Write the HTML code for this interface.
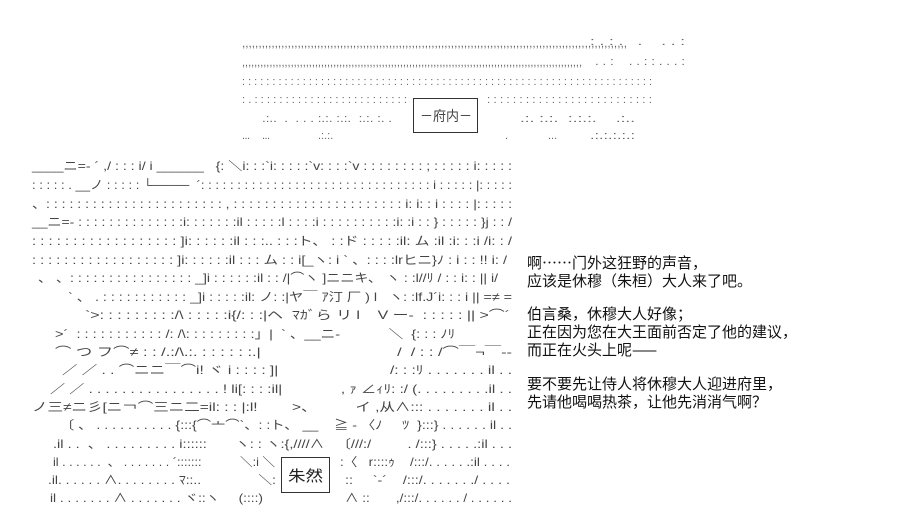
<!DOCTYPE html>
<html><head><meta charset="utf-8"><style>
html,body{margin:0;padding:0;background:#fff;width:906px;height:532px;overflow:hidden}
svg{display:block}
.a{font-family:"Liberation Sans","Noto Sans CJK JP",sans-serif;font-size:12px;fill:#444}
.t{font-family:"Noto Sans CJK SC","Liberation Sans",sans-serif;font-size:15px;fill:#111}
.d{font-family:"Liberation Sans",sans-serif;font-size:11px;fill:#666}
</style></head><body>
<svg width="906" height="532" xmlns="http://www.w3.org/2000/svg">
<text class="d" x="242" y="47" textLength="385" lengthAdjust="spacingAndGlyphs">,,,,,,,,,,,,,,,,,,,,,,,,,,,,,,,,,,,,,,,,,,,,,,,,,,,,,,,,,,,,,,,,,,,,,,,,,,,,,,,,,,,,,,,,,,,,,,,,,,,,,,,,,,,,,,,,,,,,,,</text>
<text class="d" x="590" y="45" textLength="95" lengthAdjust="spacingAndGlyphs">: . : . &#160; . &#160; &#160;. . :</text>
<text class="d" x="242" y="66" textLength="340" lengthAdjust="spacingAndGlyphs">,,,,,,,,,,,,,,,,,,,,,,,,,,,,,,,,,,,,,,,,,,,,,,,,,,,,,,,,,,,,,,,,,,,,,,,,,,,,,,,,,,,,,,,,,,,,,,,,,,,,,,,,,,,,,,,,</text>
<text class="d" x="595" y="65" textLength="90" lengthAdjust="spacingAndGlyphs">. . : &#160; &#160;. . : : . . . :</text>
<text class="d" x="242" y="85" textLength="410" lengthAdjust="spacingAndGlyphs">: : : : : : : : : : : : : : : : : : : : : : : : : : : : : : : : : : : : : : : : : : : : : : : : : : : : : : : : : : : : : : : : : : : :</text>
<text class="d" x="242" y="103" textLength="165" lengthAdjust="spacingAndGlyphs">: . : : : : : : : : : : : : : : : : : : : : : : : : :</text>
<text class="d" x="487" y="103" textLength="165" lengthAdjust="spacingAndGlyphs">: : : : : : : : : : : : : : : : : : : : : : : : : :</text>
<text class="d" x="262" y="122" textLength="130" lengthAdjust="spacingAndGlyphs">.:.. &#160;. &#160;. . . :.:. :.:. &#160;:.:. :. .</text>
<text class="d" x="520" y="122" textLength="115" lengthAdjust="spacingAndGlyphs">.:. :.:. &#160;:.:.:. &#160; &#160;.:..</text>
<text class="d" x="242" y="139" textLength="28">... &#160; &#160; ...</text>
<text class="d" x="318" y="139">.:.:.</text>
<text class="d" x="505" y="139">.</text>
<text class="d" x="548" y="139">...</text>
<text class="d" x="590" y="139" textLength="45" lengthAdjust="spacingAndGlyphs">.:.:.:.:.:</text>
<path d="M413.5 98V133M477.5 98V133M413 98.5H478M413 132.5H478" stroke="#333" fill="none"/>
<text class="a" x="420" y="121" textLength="52" lengthAdjust="spacingAndGlyphs" style="font-size:14px">－府内－</text>

<g class="a">
<text x="32" y="170" textLength="480" lengthAdjust="spacingAndGlyphs">____ニ=- ´ ,/ : : : i/ i ______ &#160; {: ＼i: : :`i: : : : :`v: : : :`v : : : : : : : : ; : : : : : i: : : : :</text>
<text x="32" y="189" textLength="480" lengthAdjust="spacingAndGlyphs">: : : : : . __ノ : : : : : └──── &#160;´: : : : : : : : : : : : : : : : : : : : : : : : : : : : : : : : i : : : : : |: : : : :</text>
<text x="32" y="208" textLength="480" lengthAdjust="spacingAndGlyphs">、: : : : : : : : : : : : : : : : : : : : : : : , : : : : : : : : : : : : : : : : : : : : : : i: i: : i : : : : |: : : : :</text>
<text x="32" y="226" textLength="480" lengthAdjust="spacingAndGlyphs">__ニ=- : : : : : : : : : : : : : :i: : : : : : :il : : : : :l : : : :i : : : : : : : : : :i: :i : : } : : : : : }j : : /</text>
<text x="32" y="245" textLength="480" lengthAdjust="spacingAndGlyphs">: : : : : : : : : : : : : : : : : : ]i: : : : : :il : : :.. : : :ト、 : :ド : : : : :il: ム :il :i: : :i /i: : /</text>
<text x="32" y="264" textLength="475" lengthAdjust="spacingAndGlyphs">: : : : : : : : : : : : : : : : : : ]i: : : : : :il : : : ム : : i[_ヽ: i ` 、: : : :lrヒニ}ﾉ : i : : !! i: /</text>
<text x="38" y="282" textLength="460" lengthAdjust="spacingAndGlyphs">、 、: : : : : : : : : : : : : : : : _]i : : : : : :il : : /|⌒ヽ ]ニニキ、 ヽ : :l//ﾘ / : : i: : || i/</text>
<text x="68" y="301" textLength="444" lengthAdjust="spacingAndGlyphs">` 、 . : : : : : : : : : : : _]i : : : : :il: ノ: :|ヤ￣ ｱ汀 厂 ) l &#160; ヽ: :lf.J´i: : : i || =≠ =</text>
<text x="85" y="319" textLength="425" lengthAdjust="spacingAndGlyphs">`>: : : : : : : : :/\ : : : : :i{/: : :|ヘ &#160;ﾏｶﾞら リ l &#160; &#160;V ー- &#160;: : : : : || >⌒´</text>
<text x="55" y="338" textLength="400" lengthAdjust="spacingAndGlyphs">>´ &#160;: : : : : : : : : : : /: /\: : : : : : : : :」| &#160;` 、__ニ- &#160; &#160; &#160; &#160; &#160; &#160;＼ &#160;{: : : ﾉﾘ</text>
<text x="55" y="356" textLength="457" lengthAdjust="spacingAndGlyphs">⌒ つ フ⌒≠ : : /.:/\.:. : : : : : :.| &#160; &#160; &#160; &#160; &#160; &#160; &#160; &#160; &#160; &#160; &#160; &#160; &#160; &#160; &#160;/ &#160;/ : : /⌒￣¬￣-‐</text>
<text x="62" y="374" textLength="450" lengthAdjust="spacingAndGlyphs">／ ／ . . ⌒ニニ￣⌒i! ヾ i : : : : ]| &#160; &#160; &#160; &#160; &#160; &#160; &#160; &#160; &#160; &#160; &#160; &#160; &#160;/: : :ﾘ . . . . . . . il . .</text>
<text x="50" y="393" textLength="462" lengthAdjust="spacingAndGlyphs">／ ／ . . . . . . . . . . . . . . . . ! li[: : : :il| &#160; &#160; &#160; &#160; &#160; &#160; &#160;, ｧ ∠ｨﾘ: :/ (. . . . . . . . .il . .</text>
<text x="32" y="411" textLength="480" lengthAdjust="spacingAndGlyphs">ノ三≠ニ彡[ニ￢⌒三ニ二=il: : : |:l! &#160; &#160; &#160; &#160;>、 &#160; &#160; &#160; &#160; イ ,从∧::: . . . . . . . il . .</text>
<text x="60" y="429" textLength="452" lengthAdjust="spacingAndGlyphs">〔 、 . . . . . . . . . . {:::{⌒亠⌒`、: :ト、 __ &#160; &#160;≧ - 〈ﾉ &#160; &#160; ﾂ &#160;}:::} . . . . . . il . .</text>
<text x="53" y="448" textLength="459" lengthAdjust="spacingAndGlyphs">.il . . &#160;、 . . . . . . . . . i:::::: &#160; &#160; &#160; ヽ: : ヽ:{,////∧ &#160; 〔///:/ &#160; &#160; &#160; &#160; . /:::} . . . . .:il . . .</text>
<text x="53" y="466" textLength="222" lengthAdjust="spacingAndGlyphs">il . . . . . . &#160;、 . . . . . . . ´::::::: &#160; &#160; &#160; &#160; &#160; ＼:i ＼</text>
<text x="340" y="466" textLength="170" lengthAdjust="spacingAndGlyphs">:〈 &#160; r::::ｩ &#160; &#160;/:::/. . . . . .:il . . . .</text>
<text x="48" y="484" textLength="228" lengthAdjust="spacingAndGlyphs">.il. . . . . . ∧. . . . . . . . ﾏ::.. &#160; &#160; &#160; &#160; &#160; &#160; &#160; ＼:</text>
<text x="345" y="484" textLength="165" lengthAdjust="spacingAndGlyphs">:: &#160; &#160; `‐´ &#160; &#160;/:::/. . . . . . ./ . . . .</text>
<text x="50" y="502" textLength="213" lengthAdjust="spacingAndGlyphs">il . . . . . . . ∧ . . . . . . . ヾ::ヽ &#160; &#160; (::::)</text>
<text x="345" y="502" textLength="167" lengthAdjust="spacingAndGlyphs">∧ :: &#160; &#160; &#160; ,/:::/. . . . . . / . . . . . .</text>
</g>
<path d="M281.5 457V493M329.5 457V493M281 457.5H330M281 492.5H330" stroke="#333" fill="none"/>
<text class="a" x="288" y="481" style="font-size:15px;fill:#222" textLength="35" lengthAdjust="spacingAndGlyphs">朱然</text>

<g class="t">
<text x="527" y="268">啊……门外这狂野的声音，</text>
<text x="527" y="286">应该是休穆（朱桓）大人来了吧。</text>
<text x="527" y="319">伯言桑，休穆大人好像；</text>
<text x="527" y="337">正在因为您在大王面前否定了他的建议，</text>
<text x="527" y="355">而正在火头上呢——</text>
<text x="527" y="389">要不要先让侍人将休穆大人迎进府里，</text>
<text x="527" y="407">先请他喝喝热茶，让他先消消气啊？</text>
</g>
</svg>
</body></html>
